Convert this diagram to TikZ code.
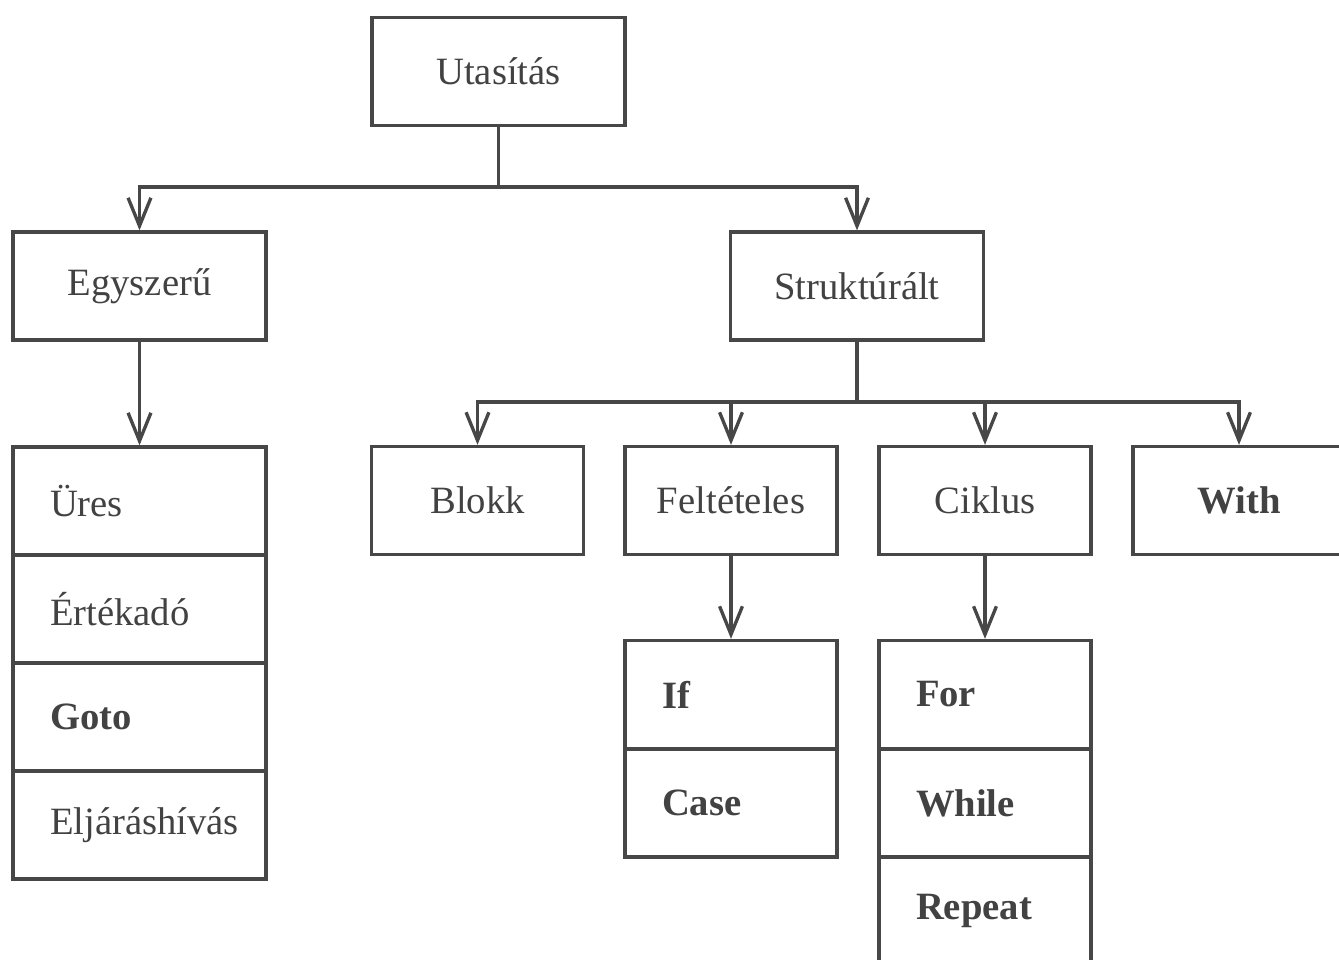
\documentclass[tikz,border=0pt]{standalone}
\usepackage{fontspec}
\setmainfont{Liberation Serif}
\usetikzlibrary{arrows.meta}
\definecolor{ink}{HTML}{474747}
\definecolor{txt}{HTML}{424242}
\begin{document}
\begin{tikzpicture}[x=0.02cm,y=-0.02cm,
  every node/.style={font=\fontsize{22}{26}\selectfont, text=txt},
  box/.style={draw=ink, line width=1.9pt, rectangle, inner sep=0pt,
    minimum height=2.16cm},
  wide/.style={box, minimum width=5.06cm},
  narrow/.style={box, minimum width=4.24cm},
  cell/.style={box, align=left, text width=#1},
  cell/.default=5.06cm,
  link/.style={draw=ink, line width=1.9pt},
  arr/.style={link, -{Straight Barb[length=16pt,width=13pt,line width=1.9pt]}}]
\useasboundingbox (0,0) rectangle (1339,960);
\fill[white] (0,0) rectangle (1339,960);
\clip (0,0) rectangle (1339,960);

% top levels
\node[wide] (ut) at (498.5,71.5) {Utasítás};
\node[wide] (egy) at (139.5,286) {Egyszerű};
\node[wide] (str) at (857,286) {Struktúrált};

% simple statements
\node[cell] (ures) at (139.5,501) {\hspace*{0.74cm}Üres\hfill};
\node[cell] (ertek) at (139.5,609) {\hspace*{0.74cm}Értékadó\hfill};
\node[cell] (goto) at (139.5,717) {\hspace*{0.74cm}\textbf{Goto}\hfill};
\node[cell] (eljar) at (139.5,825) {\hspace*{0.74cm}Eljáráshívás\hfill};

% structured statements
\node[narrow] (blokk) at (477.5,500.5) {Blokk};
\node[narrow] (felt) at (731,500.5) {Feltételes};
\node[narrow] (cik) at (985,500.5) {Ciklus};
\node[narrow] (with) at (1239,500.5) {\textbf{With}};

\node[cell=4.24cm] (if) at (731,694.5) {\hspace*{0.74cm}\textbf{If}\hfill};
\node[cell=4.24cm] (case) at (731,803) {\hspace*{0.74cm}\textbf{Case}\hfill};

\node[cell=4.24cm] (for) at (985,694.5) {\hspace*{0.74cm}\textbf{For}\hfill};
\node[cell=4.24cm] (while) at (985,803) {\hspace*{0.74cm}\textbf{While}\hfill};
\node[cell=4.24cm] (repeat) at (985,911) {\hspace*{0.74cm}\textbf{Repeat}\hfill};

% connectors
\coordinate (j1) at (498.5,187);
\coordinate (j2) at (857,402);
\draw[link] (ut.south) -- (j1);
\draw[arr] (j1) -| (egy.north);
\draw[arr] (j1) -| (str.north);
\draw[arr] (egy.south) -- (ures.north);
\draw[link] (str.south) -- (j2);
\draw[arr] (j2) -| (blokk.north);
\draw[arr] (j2) -| (felt.north);
\draw[arr] (j2) -| (cik.north);
\draw[arr] (j2) -| (with.north);
\draw[arr] (felt.south) -- (if.north);
\draw[arr] (cik.south) -- (for.north);
\end{tikzpicture}
\end{document}
